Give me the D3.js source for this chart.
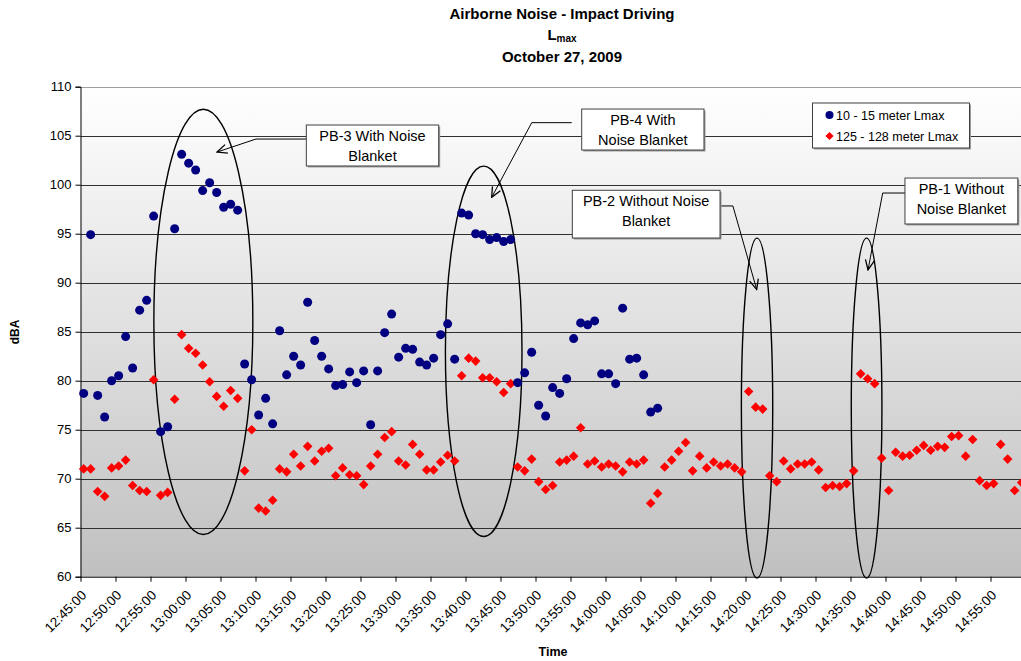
<!DOCTYPE html>
<html><head><meta charset="utf-8">
<script src="https://cdn.jsdelivr.net/npm/d3@7"></script>
<style>body{margin:0;background:#fff}svg{display:block}text{font-family:Arial,"Liberation Sans",sans-serif}</style>
</head><body><svg id="c" width="1021" height="661"></svg>
<script>
// ---- data ----
const timeLabels = ["12:45:00","12:50:00","12:55:00","13:00:00","13:05:00","13:10:00","13:15:00","13:20:00","13:25:00","13:30:00","13:35:00","13:40:00","13:45:00","13:50:00","13:55:00","14:00:00","14:05:00","14:10:00","14:15:00","14:20:00","14:25:00","14:30:00","14:35:00","14:40:00","14:45:00","14:50:00","14:55:00"];
const yTicks = [60,65,70,75,80,85,90,95,100,105,110];
const near = [78.7,94.9,78.5,76.3,80.0,80.5,84.5,81.3,87.2,88.2,96.8,74.8,75.3,95.5,103.1,102.2,101.5,99.4,100.2,99.2,97.7,98.0,97.4,81.7,80.1,76.5,78.2,75.6,85.1,80.6,82.5,81.6,88.0,84.1,82.5,81.2,79.5,79.6,80.9,79.8,81.0,75.5,81.0,84.9,86.8,82.4,83.3,83.2,81.9,81.6,82.3,84.7,85.8,82.2,97.1,96.9,95.0,94.9,94.4,94.6,94.2,94.4,79.8,80.8,82.9,77.5,76.4,79.3,78.7,80.2,84.3,85.9,85.7,86.1,80.7,80.7,79.7,87.4,82.2,82.3,80.6,76.8,77.2];
const far = [71.0,71.0,68.7,68.2,71.1,71.3,71.9,69.3,68.8,68.7,80.1,68.3,68.6,78.1,84.7,83.3,82.8,81.6,79.9,78.4,77.4,79.0,78.2,70.8,75.0,67.0,66.7,67.8,71.0,70.7,72.5,71.3,73.3,71.8,72.8,73.1,70.3,71.1,70.4,70.3,69.4,71.3,72.5,74.2,74.8,71.8,71.4,73.5,72.5,70.9,70.9,71.7,72.4,71.8,80.5,82.3,82.0,80.3,80.3,79.9,78.8,79.7,71.2,70.8,72.0,69.7,68.9,69.3,71.7,71.9,72.3,75.2,71.5,71.8,71.2,71.5,71.3,70.7,71.7,71.5,71.9,67.5,68.5,71.2,71.9,72.8,73.7,70.8,72.3,71.1,71.7,71.3,71.5,71.1,70.7,78.9,77.3,77.1,70.3,69.7,71.8,71.0,71.5,71.5,71.7,70.9,69.1,69.3,69.2,69.5,70.8,80.7,80.2,79.7,72.1,68.8,72.7,72.3,72.4,72.9,73.4,72.9,73.3,73.2,74.3,74.4,72.3,74.0,69.8,69.3,69.5,73.5,72.0,68.8,69.6];
const seriesNames = ["10 - 15 meter Lmax","125 - 128 meter Lmax"];
// annotations: ellipse centre (category index, dBA) and half sizes
const ellipses = [
  {cx:17.55, cy:86.0, rx:7.07, ry:21.7},
  {cx:57.6, cy:83.0, rx:5.47, ry:18.9},
  {cx:96.65, cy:77.2, rx:2.24, ry:17.35},
  {cx:112.3, cy:77.2, rx:2.19, ry:17.35}
];
const callouts = [
  {lines:["PB-3 With Noise","Blanket"], box:[32.26,51.17,106.09,101.91], path:[[32.26,104.66],[25.07,104.66],[19.5,103.33]]},
  {lines:["PB-4  With","Noise Blanket"], box:[71.6,89.07,107.72,103.54], path:[[70.17,106.33],[64.46,106.33],[58.74,98.71]]},
  {lines:["PB-2 Without Noise","Blanket"], box:[70.26,91.36,99.43,94.56], path:[[91.36,97.83],[93.2,97.83],[96.6,89.3]]},
  {lines:["PB-1 Without","Noise Blanket"], box:[117.78,133.9,100.68,95.99], path:[[117.78,99.15],[114.6,99.15],[112.5,91.3]]}
];

// ---- layout ----
const svg = d3.select("#c");
const x = d3.scaleLinear().domain([0,135]).range([80.5,1025.5]);
const y = d3.scaleLinear().domain([60,110]).range([576.7,86.7]);
const W = 1021;
const FF = "Arial, Liberation Sans, sans-serif";

const defs = svg.append("defs");
const g = defs.append("linearGradient").attr("id","bg").attr("x1",0).attr("y1",0).attr("x2",0).attr("y2",1);
g.append("stop").attr("offset","0%").attr("stop-color","#ffffff");
g.append("stop").attr("offset","100%").attr("stop-color","#c0c0c0");
defs.append("marker").attr("id","arr").attr("viewBox","0 0 12 12").attr("refX",11).attr("refY",6)
  .attr("markerWidth",12).attr("markerHeight",12).attr("markerUnits","userSpaceOnUse").attr("orient","auto")
  .append("path").attr("d","M1,1.5 L11,6 L1,10.5").attr("fill","none").attr("stroke","#000").attr("stroke-width",1.3);

svg.append("rect").attr("x",x(0)).attr("y",y(110)).attr("width",W-x(0)).attr("height",y(60)-y(110)).attr("fill","url(#bg)");

// gridlines
svg.append("g").selectAll("line").data(yTicks.filter(d=>d>60)).join("line")
  .attr("x1",x(0)).attr("x2",W).attr("y1",d=>Math.round(y(d))+0.5).attr("y2",d=>Math.round(y(d))+0.5)
  .attr("stroke",d=>d===110?"#a0a0a0":"#303030").attr("stroke-width",1);

// axes
const yAxis = d3.axisLeft(y).tickValues(yTicks).tickSize(5).tickFormat(d3.format("d"));
const ya = svg.append("g").attr("transform","translate(80.5,0)").call(yAxis);
ya.select(".domain").attr("stroke","#000");
ya.selectAll("text").attr("font-size",13).attr("fill","#000").attr("font-family",FF).attr("dx",-1);

const tickIdx = timeLabels.map((d,i)=>i*5);
const xAxis = d3.axisBottom(x).tickValues(tickIdx).tickSize(5).tickFormat((d,i)=>timeLabels[i]);
const xa = svg.append("g").attr("transform","translate(0,576.7)").call(xAxis);
xa.select(".domain").attr("d",`M${x(0)},0.5H${W}`).attr("stroke","#000");
xa.selectAll(".tick text").attr("font-size",13.5).attr("fill","#000").attr("font-family",FF)
  .attr("text-anchor","end").attr("transform","translate(3,16) rotate(-45)").attr("y",0).attr("dy","0.35em").attr("x",0);

// ellipses
svg.append("g").selectAll("ellipse").data(ellipses).join("ellipse")
  .attr("cx",d=>x(d.cx)).attr("cy",d=>y(d.cy)).attr("rx",d=>x(d.rx)-x(0)).attr("ry",d=>y(0)-y(d.ry))
  .attr("fill","none").attr("stroke","#000").attr("stroke-width",1.4);

// points
svg.append("g").selectAll("path").data(far).join("path")
  .attr("d",d3.symbol(d3.symbolSquare,46))
  .attr("transform",(d,i)=>`translate(${x(i+0.45)},${y(d)}) rotate(45)`)
  .attr("fill","#ff0000");
svg.append("g").selectAll("circle").data(near).join("circle")
  .attr("cx",(d,i)=>x(i+0.45)).attr("cy",d=>y(d)).attr("r",4.5).attr("fill","#000080");

// callouts
const cg = svg.append("g");
callouts.forEach(c=>{
  const line = d3.line().x(p=>x(p[0])).y(p=>y(p[1]));
  cg.append("path").attr("d",line(c.path)).attr("fill","none").attr("stroke","#000").attr("stroke-width",1).attr("marker-end","url(#arr)");
  const x0=x(c.box[0]), x1=x(c.box[1]), y0=y(c.box[2]), y1=y(c.box[3]);
  cg.append("rect").attr("x",x0+1.5).attr("y",y0+1.5).attr("width",x1-x0).attr("height",y1-y0).attr("fill","#9a9a9a");
  cg.append("rect").attr("x",x0).attr("y",y0).attr("width",x1-x0).attr("height",y1-y0).attr("fill","#fff").attr("stroke","#404040");
  c.lines.forEach((t,k)=>{
    cg.append("text").attr("x",(x0+x1)/2).attr("y",y0+16+k*19.5).attr("text-anchor","middle").attr("font-size",14.5).text(t);
  });
});

// legend
const lg = svg.append("g");
lg.append("rect").attr("x",814).attr("y",104.5).attr("width",157).attr("height",45).attr("fill","#9a9a9a");
lg.append("rect").attr("x",812.5).attr("y",103).attr("width",157).attr("height",45).attr("fill","#fff").attr("stroke","#404040");
lg.append("circle").attr("cx",829.5).attr("cy",115).attr("r",4).attr("fill","#000080");
lg.append("path").attr("d",d3.symbol(d3.symbolSquare,34)).attr("transform","translate(829.5,136) rotate(45)").attr("fill","#ff0000");
seriesNames.forEach((s,k)=>{
  lg.append("text").attr("x",836).attr("y",119.5+k*21).attr("font-size",12.5).text(s);
});

// titles
const tg = svg.append("g").attr("font-weight","bold").attr("text-anchor","middle");
tg.append("text").attr("x",562).attr("y",19).attr("font-size",15).text("Airborne Noise - Impact Driving");
const t2 = tg.append("text").attr("x",562).attr("y",40).attr("font-size",15);
t2.append("tspan").text("L");
t2.append("tspan").attr("font-size",10).attr("dy",2).text("max");
tg.append("text").attr("x",562).attr("y",62).attr("font-size",15).text("October 27, 2009");
svg.append("text").attr("transform","translate(19,332) rotate(-90)").attr("text-anchor","middle").attr("font-weight","bold").attr("font-size",12).text("dBA");
svg.append("text").attr("x",553).attr("y",656).attr("text-anchor","middle").attr("font-weight","bold").attr("font-size",12.5).text("Time");
</script></body></html>
